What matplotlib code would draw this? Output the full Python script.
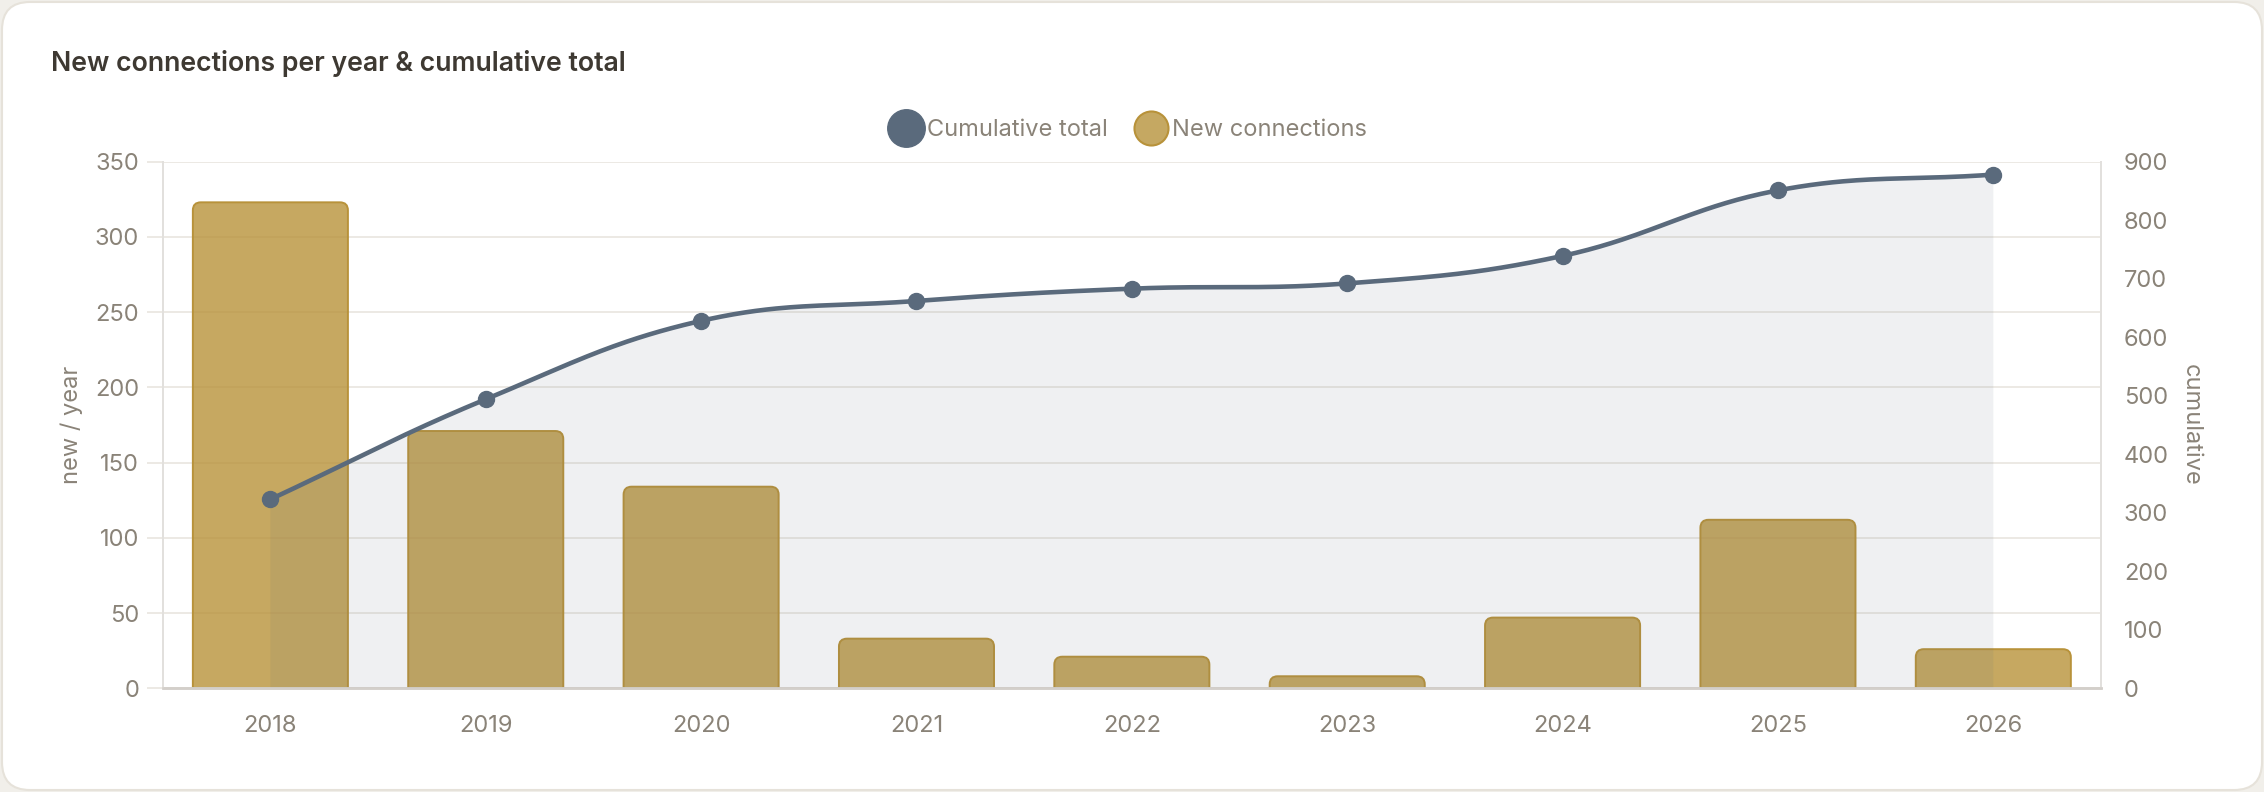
import numpy as np
import matplotlib
matplotlib.use("Agg")
import matplotlib.pyplot as plt
from matplotlib.patches import FancyBboxPatch
from matplotlib.lines import Line2D
from matplotlib.transforms import IdentityTransform

# data
years = ["2018", "2019", "2020", "2021", "2022", "2023", "2024", "2025", "2026"]
new_per_year = [323, 171, 134, 33, 21, 8, 47, 112, 26]
cumulative = [323, 494, 628, 662, 683, 692, 739, 851, 878]
left_ticks = [0, 50, 100, 150, 200, 250, 300, 350]
right_ticks = [0, 100, 200, 300, 400, 500, 600, 700, 800, 900]

W, H = 2264, 792
plt.rcParams['font.family'] = ['Inter', 'DejaVu Sans']

tick_col = '#8a8378'
grid_col = '#ece9e4'
line_col = '#5a6a7c'
bar_face = (184/255, 146/255, 58/255, 0.8)
bar_edge = '#b8923a'

fig = plt.figure(figsize=(W/100, H/100), dpi=100)
fig.patch.set_facecolor('#f1efea')

# card behind everything
card = FancyBboxPatch((2, 2), W - 4, H - 4, boxstyle="round,pad=0,rounding_size=28",
                      transform=IdentityTransform(), facecolor='white',
                      edgecolor='#e6e2da', linewidth=1.5, zorder=-10)
fig.add_artist(card)

left, right = 162.7, 2101
top, bottom = 161.7, 688.3
ax = fig.add_axes([left/W, 1 - bottom/H, (right-left)/W, (bottom-top)/H])
ax2 = ax.twinx()
for a in (ax, ax2):
    a.patch.set_visible(False)

x = np.arange(len(years))
ax.set_xlim(-0.5, len(years) - 0.5)
ax.set_ylim(0, 350)
ax2.set_ylim(0, 900)

# bars with rounded tops
px_x = ax.transData.transform((1, 0))[0] - ax.transData.transform((0, 0))[0]
px_y = ax.transData.transform((0, 1))[1] - ax.transData.transform((0, 0))[1]
r_px = 8
rx = r_px / px_x
ry = r_px / px_y
bars = ax.bar(x, new_per_year, width=0.72)
for rect in bars:
    bx, bw, bh = rect.get_x(), rect.get_width(), rect.get_height()
    rect.set_visible(False)
    p = FancyBboxPatch((bx, -ry), bw, bh + ry,
                       boxstyle=f"round,pad=0,rounding_size={rx}",
                       mutation_aspect=ry/rx, facecolor=bar_face,
                       edgecolor=bar_edge, linewidth=1.4, zorder=2)
    ax.add_patch(p)

# smooth line like chart.js tension 0.4, worked out in pixel space
pts = ax2.transData.transform(np.column_stack([x, cumulative]))
n = len(pts)
t = 0.4
cprev, cnext = [], []
for i in range(n):
    p0 = pts[max(i-1, 0)]
    p1 = pts[i]
    p2 = pts[min(i+1, n-1)]
    d01 = np.hypot(*(p1 - p0))
    d12 = np.hypot(*(p2 - p1))
    s01 = d01 / (d01 + d12)
    s12 = d12 / (d01 + d12)
    cprev.append(p1 - t*s01*(p2 - p0))
    cnext.append(p1 + t*s12*(p2 - p0))
tt = np.linspace(0, 1, 60)[:, None]
curve = []
for i in range(n - 1):
    a, b, c, d = pts[i], cnext[i], cprev[i+1], pts[i+1]
    seg = (1-tt)**3*a + 3*(1-tt)**2*tt*b + 3*(1-tt)*tt**2*c + tt**3*d
    curve.append(seg if i == 0 else seg[1:])
curve = ax2.transData.inverted().transform(np.vstack(curve))
cx, cy = curve[:, 0], curve[:, 1]

ax2.fill(np.r_[cx, cx[-1], cx[0]], np.r_[cy, 0, 0], color=line_col, alpha=0.095,
         linewidth=0, zorder=1)
ax2.plot(cx, cy, color=line_col, linewidth=3.3, zorder=3, solid_capstyle='round')
ax2.plot(x, cumulative, 'o', color=line_col, markersize=11.5, zorder=4)

# axes styling
ax.set_yticks(left_ticks)
ax.set_xticks(x)
ax.set_xticklabels(years)
ax2.set_yticks(right_ticks)
ax.grid(axis='y', color=grid_col, linewidth=1.4)
ax.set_axisbelow(True)
ax.tick_params(axis='y', length=11.5, width=1.4, color=grid_col, pad=5.5,
               labelsize=17, labelcolor=tick_col)
ax.tick_params(axis='x', length=0, pad=19, labelsize=17, labelcolor=tick_col)
ax2.tick_params(axis='y', length=0, pad=16.5, labelsize=17, labelcolor=tick_col)
for a in (ax, ax2):
    a.spines['top'].set_visible(False)
    a.spines['left'].set_color('#e2e0dd')
    a.spines['right'].set_color('#e2e0dd')
    a.spines['left'].set_linewidth(1.4)
    a.spines['right'].set_linewidth(1.4)
    a.spines['bottom'].set_color('#d3cfca')
    a.spines['bottom'].set_linewidth(1.8)

fig.text(72/W, 1 - 425/H, "new / year", rotation=90, ha='center', va='center',
         fontsize=17, color=tick_col)
fig.text(2191/W, 1 - 425/H, "cumulative", rotation=270, ha='center', va='center',
         fontsize=17, color=tick_col)

fig.text(50.7/W, 1 - 71/H, "New connections per year & cumulative total",
         ha='left', va='baseline', fontsize=19.2, fontweight='semibold', color='#3e3932')

handles = [
    Line2D([], [], linestyle='none', marker='o', markersize=27, color=line_col),
    Line2D([], [], linestyle='none', marker='o', markersize=24.5,
           markerfacecolor='#c5a862', markeredgecolor=bar_edge, markeredgewidth=1.5),
]
fig.legend(handles, ["Cumulative total", "New connections"], loc='center',
           bbox_to_anchor=(1127/W, 1 - 130/H), ncol=2, frameon=False,
           fontsize=17, labelcolor=tick_col, handlelength=1.6,
           handletextpad=0.1, columnspacing=1.0)

fig.savefig("out.png", dpi=100, facecolor=fig.get_facecolor())
